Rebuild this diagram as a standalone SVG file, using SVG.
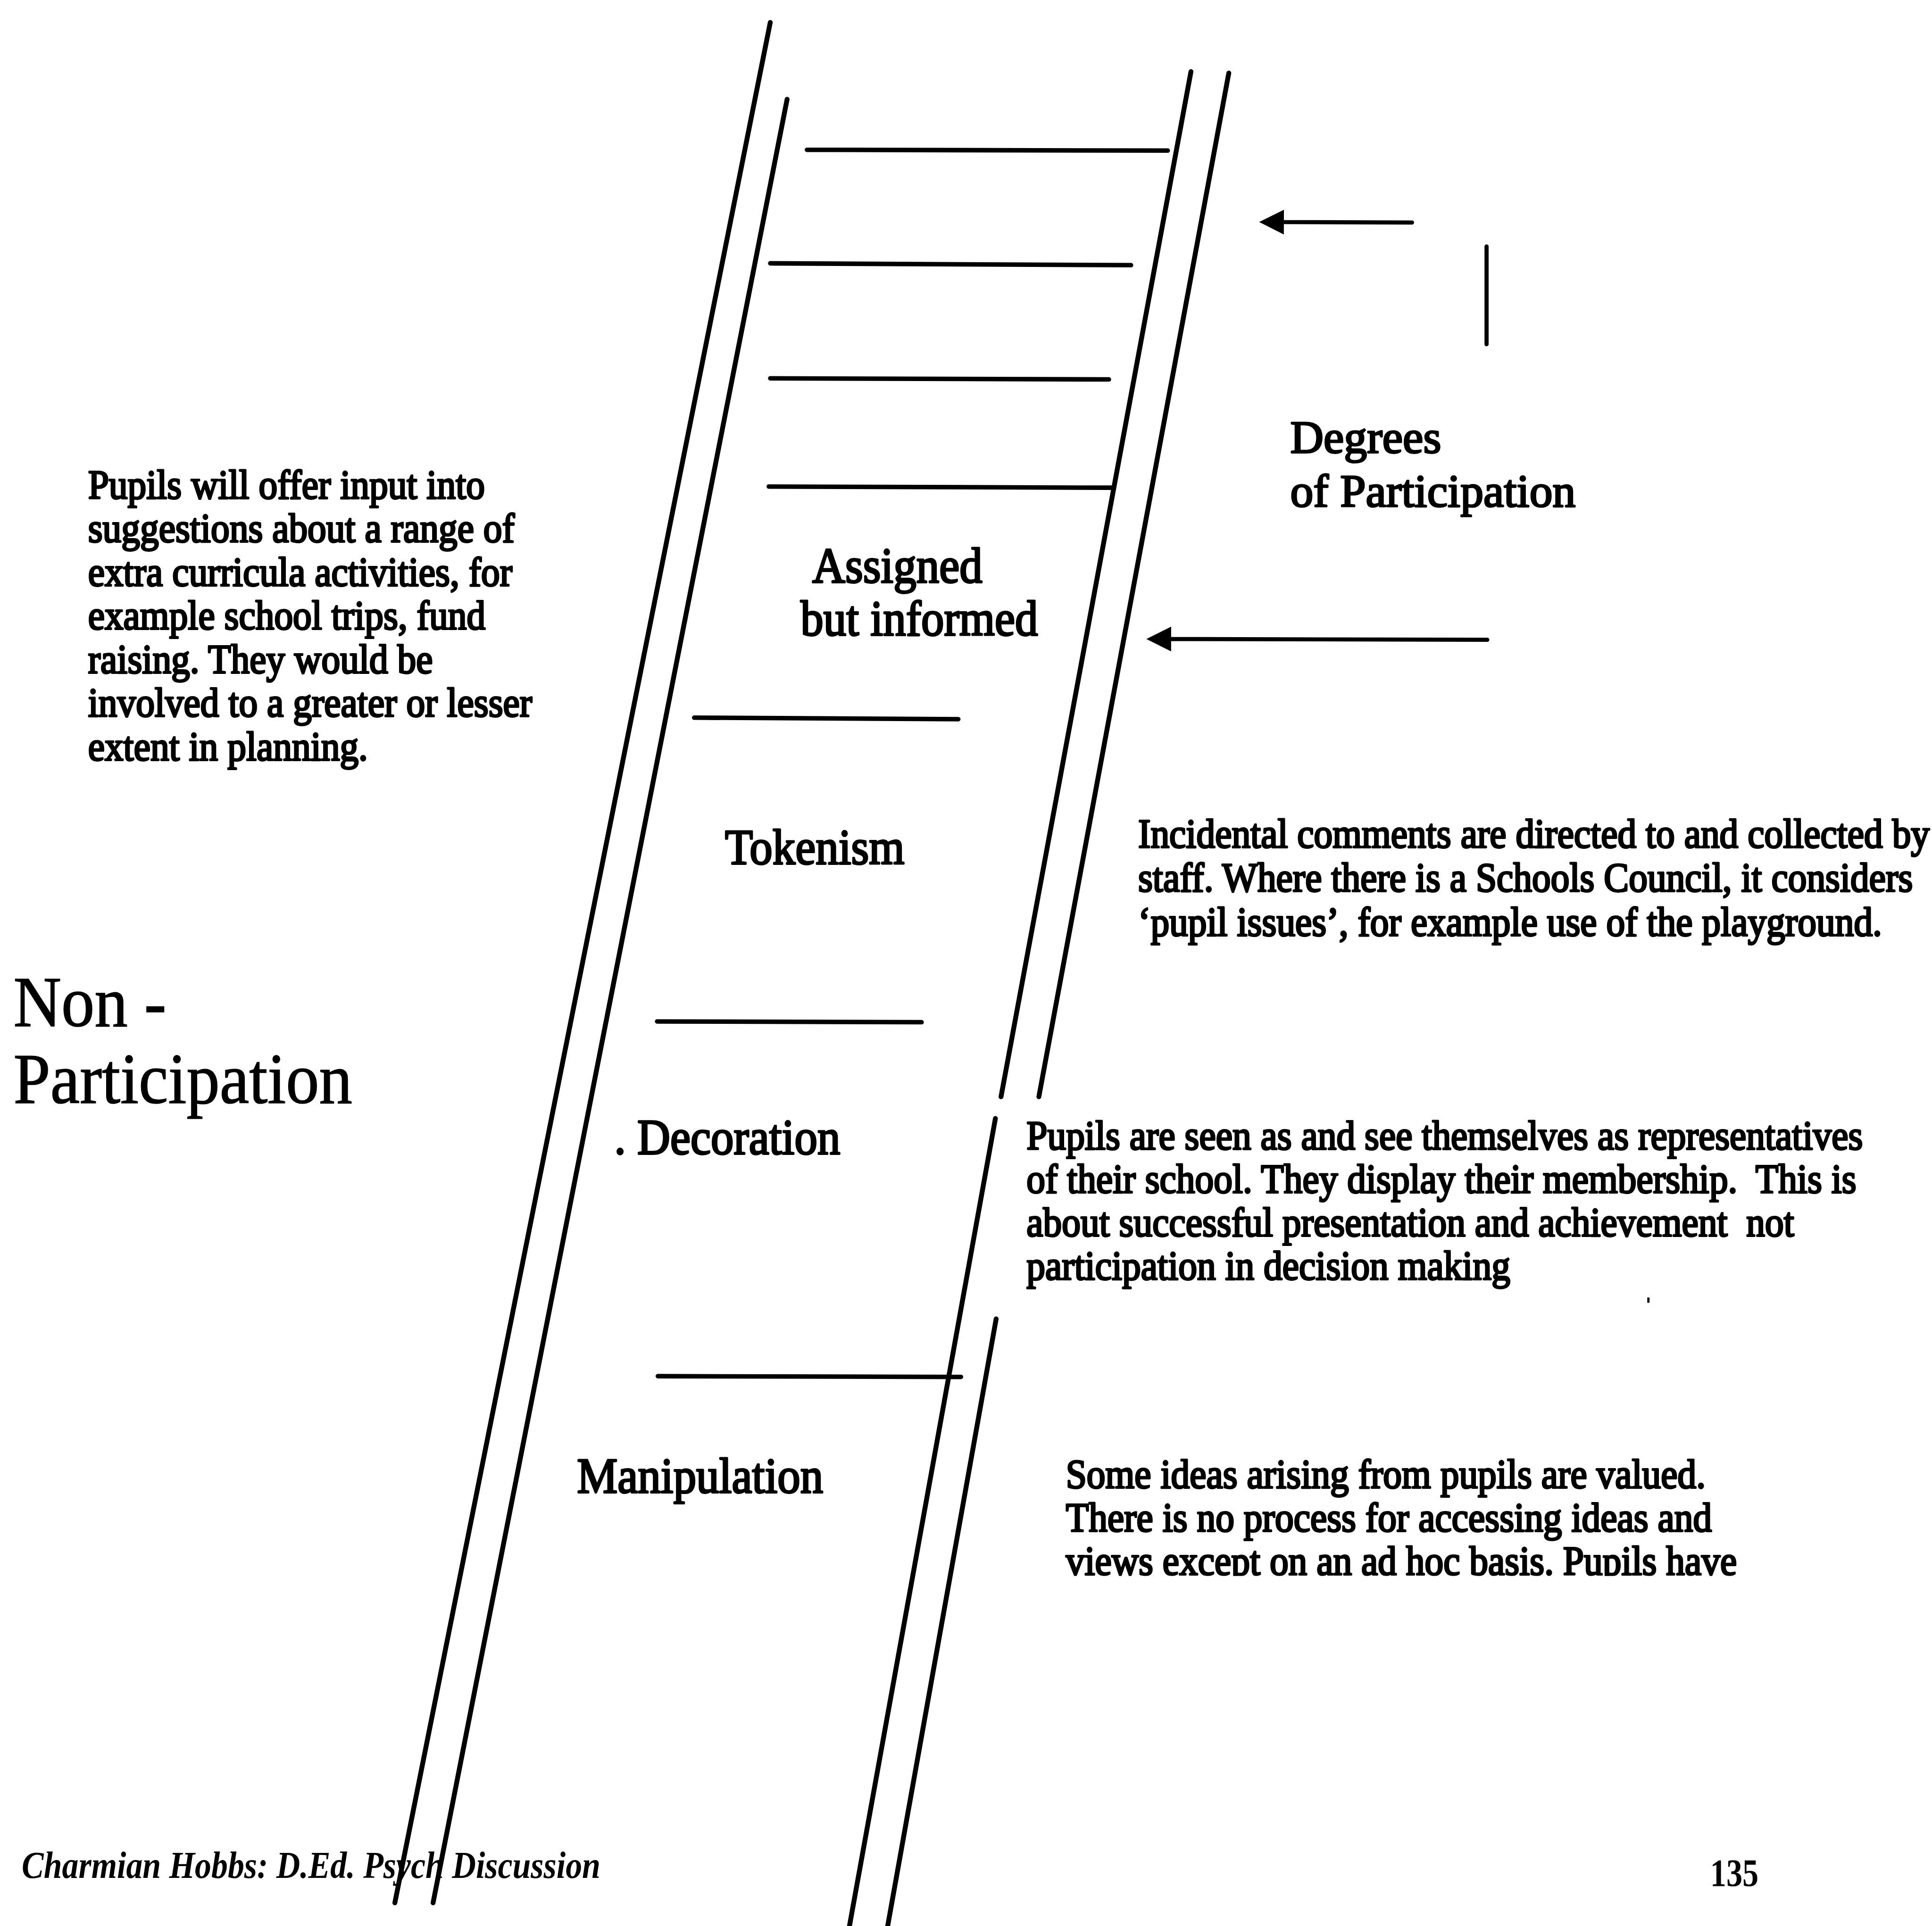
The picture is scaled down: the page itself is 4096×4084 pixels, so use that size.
<svg xmlns="http://www.w3.org/2000/svg" width="4096" height="4084" viewBox="0 0 4096 4084">
  <defs>
    <style>
      .rail { stroke: #000; stroke-width: 13; stroke-linecap: round; fill: none; }
      .rung { stroke: #000; stroke-width: 12; stroke-linecap: round; fill: none; }
      .arrow { stroke: #000; stroke-width: 11; stroke-linecap: round; fill: none; }
      .para { font-family: "Liberation Serif", "Times New Roman", serif; font-size: 100px; fill: #000; stroke: #000; stroke-width: 4.5; stroke-linejoin: round; }
      .label { font-family: "Liberation Serif", "Times New Roman", serif; font-size: 122px; fill: #000; stroke: #000; stroke-width: 4.5; stroke-linejoin: round; }
      .big { font-family: "Liberation Serif", "Times New Roman", serif; font-size: 177px; fill: #000; stroke: #000; stroke-width: 2; }
      .foot { font-family: "Liberation Serif", "Times New Roman", serif; font-size: 88px; font-weight: bold; font-style: italic; fill: #000; }
      .page { font-family: "Liberation Serif", "Times New Roman", serif; font-size: 86px; font-weight: bold; fill: #000; }
    </style>
    <marker id="head" viewBox="0 0 66 66" refX="0" refY="33" markerWidth="66" markerHeight="66" markerUnits="userSpaceOnUse" orient="auto">
      <path d="M0,0 L66,33 L0,66 Z" fill="#000"/>
    </marker>
    <!-- the last line of the lower note is cut just under its baseline -->
    <clipPath id="cut-last-line">
      <rect x="-100" y="-120" width="2400" height="123"/>
    </clipPath>
  </defs>

  <rect x="0" y="0" width="4096" height="4084" fill="#fff"/>

  <g transform="scale(0.79426)">
    <!-- ladder rails and rungs -->
    <g id="ladder">
      <line class="rail" x1="2056" y1="60" x2="1054" y2="5080"/>
      <line class="rail" x1="2101" y1="265" x2="1156" y2="5080"/>
      <line class="rail" x1="3179" y1="191" x2="2672" y2="2928"/>
      <line class="rail" x1="3280" y1="195" x2="2773" y2="2928"/>
      <line class="rail" x1="2657" y1="2986" x2="2266" y2="5150"/>
      <line class="rail" x1="2659" y1="3521" x2="2368" y2="5150"/>

      <line class="rung" x1="2154" y1="400" x2="3117" y2="402"/>
      <line class="rung" x1="2056" y1="703" x2="3019" y2="708"/>
      <line class="rung" x1="2056" y1="1010" x2="2960" y2="1013"/>
      <line class="rung" x1="2052" y1="1299" x2="2967" y2="1302"/>
      <line class="rung" x1="1853" y1="1916" x2="2558" y2="1920"/>
      <line class="rung" x1="1754" y1="2727" x2="2460" y2="2729"/>
      <line class="rung" x1="1756" y1="3674" x2="2565" y2="3676"/>
    </g>

    <!-- arrows and marker line -->
    <g id="connectors">
      <line class="arrow" x1="3769" y1="594" x2="3427" y2="593" marker-end="url(#head)"/>
      <line class="arrow" x1="3968" y1="658" x2="3968" y2="919"/>
      <line class="arrow" x1="3970" y1="1708" x2="3126" y2="1706" marker-end="url(#head)"/>
    </g>

    <g id="degrees">
      <text class="label" style="font-size:123px" x="3444" y="1209">Degrees</text>
      <text class="label" style="font-size:123px" x="3444" y="1352">of Participation</text>
    </g>

    <g id="assigned">
      <text class="label" transform="translate(2168,1555) scale(1,1.1)">Assigned</text>
      <text class="label" transform="translate(2137,1696) scale(1,1.1)">but informed</text>
    </g>

    <g id="tokenism">
      <text class="label" transform="translate(1935,2306) scale(1,1.1)">Tokenism</text>
    </g>

    <g id="decoration">
      <text class="label" transform="translate(1640,3081) scale(1,1.1)">. Decoration</text>
    </g>

    <g id="manipulation">
      <text class="label" transform="translate(1540,3985) scale(1,1.1)">Manipulation</text>
    </g>

    <g id="non-participation">
      <text class="big" transform="translate(36,2740) scale(1,1.08)">Non -</text>
      <text class="big" transform="translate(36,2945) scale(1,1.08)">Participation</text>
    </g>

    <g id="note-assigned">
      <text class="para" transform="translate(235,1331) scale(1,1.1)">Pupils will offer input into</text>
      <text class="para" transform="translate(235,1447) scale(1,1.1)">suggestions about a range of</text>
      <text class="para" transform="translate(235,1564) scale(1,1.1)">extra curricula activities, for</text>
      <text class="para" transform="translate(235,1680) scale(1,1.1)">example school trips, fund</text>
      <text class="para" transform="translate(235,1797) scale(1,1.1)">raising. They would be</text>
      <text class="para" transform="translate(235,1913) scale(1,1.1)">involved to a greater or lesser</text>
      <text class="para" transform="translate(235,2030) scale(1,1.1)">extent in planning.</text>
    </g>

    <g id="note-tokenism">
      <text class="para" transform="translate(3038,2262) scale(1,1.1)">Incidental comments are directed to and collected by</text>
      <text class="para" transform="translate(3038,2380) scale(1,1.1)">staff. Where there is a Schools Council, it considers</text>
      <text class="para" transform="translate(3038,2498) scale(1,1.1)">‘pupil issues’, for example use of the playground.</text>
    </g>

    <g id="note-decoration">
      <text class="para" transform="translate(2740,3068) scale(1,1.1)">Pupils are seen as and see themselves as representatives</text>
      <text class="para" transform="translate(2740,3184) scale(1,1.1)" xml:space="preserve">of their school. They display their membership.  This is</text>
      <text class="para" transform="translate(2740,3300) scale(1,1.1)" xml:space="preserve">about successful presentation and achievement  not</text>
      <text class="para" transform="translate(2740,3416) scale(1,1.1)">participation in decision making</text>
      <rect x="4397" y="3464" width="6" height="14" fill="#000"/>
    </g>

    <g id="note-manipulation">
      <text class="para" transform="translate(2845,3972) scale(1,1.1)">Some ideas arising from pupils are valued.</text>
      <text class="para" transform="translate(2845,4088) scale(1,1.1)">There is no process for accessing ideas and</text>
      <text class="para" transform="translate(2845,4204) scale(1,1.1)" clip-path="url(#cut-last-line)">views except on an ad hoc basis. Pupils have</text>
    </g>

    <g id="footer">
      <text class="foot" transform="translate(58,5014) scale(1,1.15)">Charmian Hobbs: D.Ed. Psych Discussion</text>
      <text class="page" transform="translate(4565,5035) scale(1,1.2)">135</text>
    </g>
  </g>
</svg>
